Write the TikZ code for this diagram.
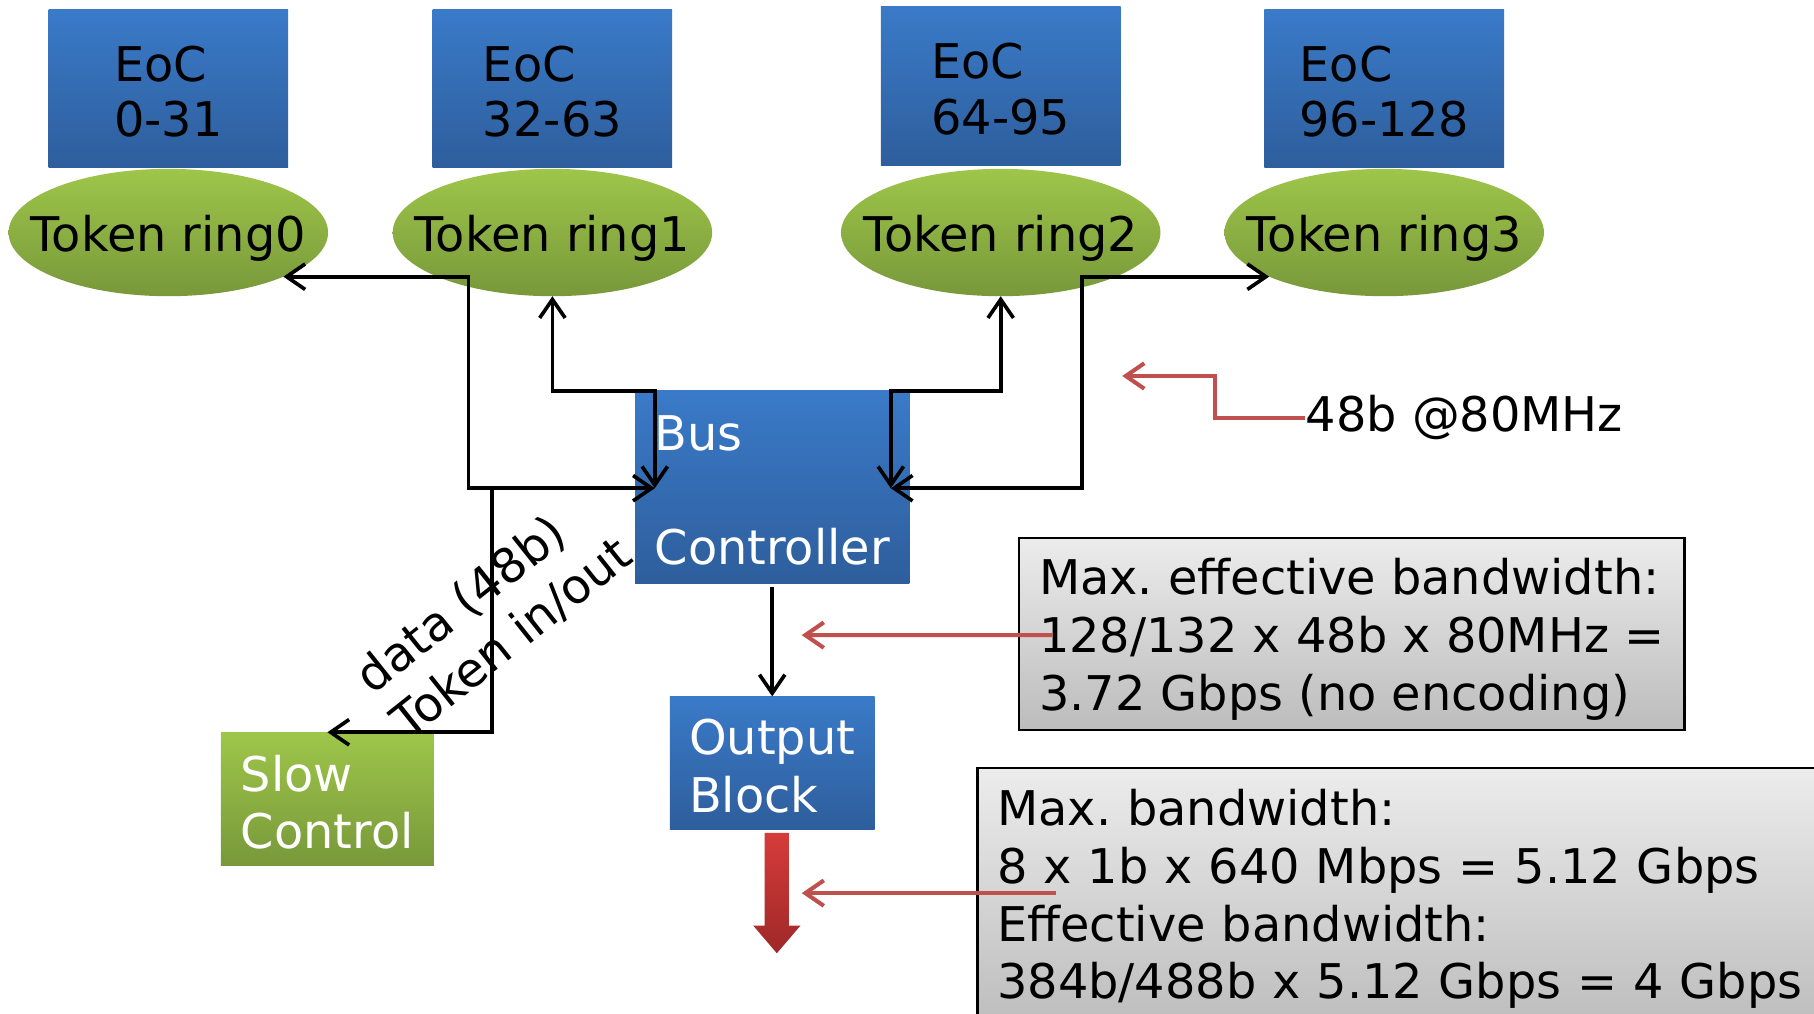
\documentclass[tikz,border=0pt]{standalone}
\usepackage{fontspec}
\setmainfont{DejaVu Sans}
\usetikzlibrary{arrows.meta,shapes.geometric}

\definecolor{blueT}{RGB}{58,122,200}
\definecolor{blueB}{RGB}{46,94,156}
\definecolor{greenT}{RGB}{158,198,74}
\definecolor{greenB}{RGB}{120,152,58}
\definecolor{grayT}{RGB}{236,236,236}
\definecolor{grayB}{RGB}{188,188,188}
\definecolor{noteRed}{RGB}{192,80,77}
\definecolor{flowT}{RGB}{214,60,58}
\definecolor{flowB}{RGB}{158,40,40}

% zero-size box so the ellipse keeps its own size; baseline set below the centre
\newcommand{\ringtext}[1]{\makebox[0pt]{\raisebox{-0.16cm}[0pt][0pt]{#1}}}
% invisible strut that lowers a text block a little
\newcommand{\topgap}[1]{\rule{0pt}{#1}}

\begin{document}
\frenchspacing
\begin{tikzpicture}[x=0.01cm,y=-0.01cm,
  font=\fontsize{11.75}{14.2}\selectfont,
  >={Straight Barb[length=1.6mm,width=2.2mm]},
  eocbox/.style={rectangle, inner sep=0pt, outer sep=0pt,
    minimum width=2.07cm, minimum height=1.37cm,
    top color=blueT, bottom color=blueB, align=left,
    font=\fontsize{11.75}{13.7}\selectfont},
  ringnode/.style={ellipse, inner sep=0pt, outer sep=0pt,
    minimum width=2.76cm, minimum height=1.10cm,
    top color=greenT, bottom color=greenB},
  blockbox/.style={rectangle, inner sep=0pt, outer sep=0pt,
    top color=blueT, bottom color=blueB, text=white, align=left},
  slowbox/.style={rectangle, inner sep=0pt, outer sep=0pt,
    top color=greenT, bottom color=greenB, text=white, align=left},
  notebox/.style={rectangle, draw=black, line width=0.6pt, outer sep=0pt,
    top color=grayT, bottom color=grayB, align=left},
  link/.style={draw=black, line width=0.9pt},
  hint/.style={draw=noteRed, line width=1pt, ->}
]
\useasboundingbox (0,0) rectangle (1568,876);

% column blocks
\node[eocbox] (eoc0) at (145.5,76.5) {\topgap{0.36cm}EoC\\0-31};
\node[eocbox] (eoc1) at (477.5,76.5) {\topgap{0.36cm}EoC\\32-63};
\node[eocbox] (eoc2) at (865,74.5)   {\topgap{0.36cm}EoC\\64-95};
\node[eocbox] (eoc3) at (1196.5,76.5){\topgap{0.36cm}EoC\\96-128};

% token rings
\node[ringnode] (ring0) at (145.5,201) {\ringtext{Token ring0}};
\node[ringnode] (ring1) at (477.5,201) {\ringtext{Token ring1}};
\node[ringnode] (ring2) at (865,201)   {\ringtext{Token ring2}};
\node[ringnode] (ring3) at (1196.5,201){\ringtext{Token ring3}};

% processing blocks
\node[blockbox, minimum width=2.37cm, minimum height=1.66cm] (bus) at (667.5,421)
  {\topgap{0.36cm}Bus\\[14pt]Controller};
\node[blockbox, minimum width=1.77cm, minimum height=1.15cm] (out) at (667.5,659.5)
  {\topgap{0.36cm}Output\\Block};
\node[slowbox, minimum width=1.84cm, minimum height=1.15cm] (slow) at (283,690.5)
  {\topgap{0.37cm}Slow\\Control};

% output data flow
\shade[top color=flowT, bottom color=flowB]
  (661,720) -- (682,720) -- (682,800) -- (692,800) -- (671.5,824)
  -- (651,800) -- (661,800) -- cycle;

% bus junctions
\coordinate (c0)   at (405,422);
\coordinate (c1)   at (425,422);
\coordinate (busL) at (566,422);
\coordinate (c2)   at (566,338);
\coordinate (c3)   at (770,338);
\coordinate (busR) at (770,422);
\coordinate (c4)   at (935,422);

\draw[link,<->] (ring0.-21) -| (c0) -- (busL);
\draw[link,<->] (ring1.south) |- (c2) -- (busL);
\draw[link,<->] (ring2.south) |- (c3) -- (busR);
\draw[link,<->] (ring3.-159) -| (c4) -- (busR);
\draw[link,->] (c1) |- (slow.north);
\draw[link,->] ([yshift=-0.03cm]bus.south) -- (out.north);

\node[rotate=38.5, align=left, inner sep=0pt] (flowlbl) at (427,532)
  {data (48b)\\Token in/out};

% annotations
\node[anchor=west, inner sep=0pt] (rate) at (1128,361) {48b @80MHz};
\coordinate (bend)  at (1050,325);
\coordinate (tip48) at (970,325);
\draw[hint] (rate.west) -| (bend) -- (tip48);

\node[notebox, inner sep=0pt, minimum width=5.75cm, minimum height=1.66cm]
  (effbox) at (1168.5,548)
  {\topgap{0.41cm}Max. effective bandwidth:\\128/132 x 48b x 80MHz =\\3.72 Gbps (no encoding)};

\node[notebox, anchor=north west, text width=7.2cm, inner xsep=0.17cm,
  inner ysep=0pt, minimum height=2.26cm] (maxbox) at (845,664)
  {Max. bandwidth:\\8 x 1b x 640 Mbps = 5.12 Gbps\\Effective bandwidth:\\384b/488b x 5.12 Gbps = 4 Gbps};

\coordinate (tipA) at (693,549);
\coordinate (tipB) at (693,772);
\draw[hint] ([shift={(29,84)}]effbox.north west) -- (tipA);
\draw[hint] ([shift={(68,108)}]maxbox.north west) -- (tipB);
\end{tikzpicture}
\end{document}
